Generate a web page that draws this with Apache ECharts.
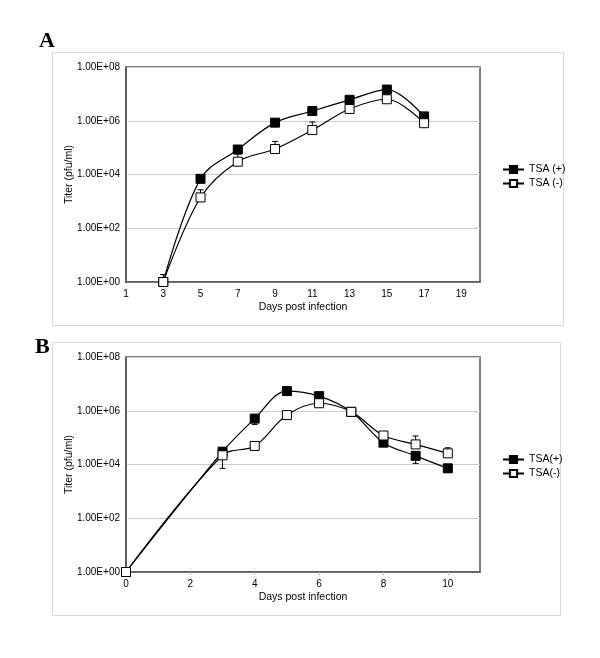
<!DOCTYPE html>
<html>
<head>
<meta charset="utf-8">
<script src="https://cdn.jsdelivr.net/npm/echarts@6/dist/echarts.min.js"></script>
<style>
html,body{margin:0;padding:0;background:#fff;}
#c{width:600px;height:658px;}
</style>
</head>
<body>
<div id="c"></div>
<script>
// ---- Panel A data ----
const daysA = [3, 5, 7, 9, 11, 13, 15, 17];
const tsaPlusA = [1, 6.9e3, 8.5e4, 8.5e5, 2.3e6, 6.0e6, 1.45e7, 1.45e6];
const tsaMinusA = [1, 1.4e3, 3.0e4, 8.9e4, 4.5e5, 2.75e6, 6.3e6, 8.1e5];
// error bar ends: [day, value, end]
const errPlusA = [[15, 1.45e7, 1.0e7]];
const errMinusA = [[3, 1, 1.9], [5, 1.4e3, 2.7e3], [7, 3.0e4, 5.8e4], [9, 8.9e4, 1.7e5], [11, 4.5e5, 9.0e5]];
const xTicksA = [1, 3, 5, 7, 9, 11, 13, 15, 17, 19];

// ---- Panel B data ----
const daysB = [0, 3, 4, 5, 6, 7, 8, 9, 10];
const tsaPlusB = [1, 3.0e4, 5.1e5, 5.4e6, 3.5e6, 9.1e5, 6.5e4, 2.1e4, 7.2e3];
const tsaMinusB = [1, 2.2e4, 4.9e4, 6.9e5, 1.9e6, 9.1e5, 1.2e5, 5.6e4, 2.6e4];
const errPlusB = [[4, 5.1e5, 3.1e5], [9, 2.1e4, 1.1e4], [10, 7.2e3, 5.4e3]];
const errMinusB = [[3, 2.2e4, 7.2e3], [9, 5.6e4, 1.15e5], [10, 2.6e4, 4.2e4]];
const xTicksB = [0, 2, 4, 6, 8, 10];

const yTickLabels = ['1.00E+00', '1.00E+02', '1.00E+04', '1.00E+06', '1.00E+08'];

const FONT = 'Liberation Sans, Arial, sans-serif';

function zip(xs, ys) { return xs.map((x, i) => [x, ys[i]]); }

function yLabel(v) {
  const e = Math.round(Math.log10(v));
  const s = '1.00E+' + (e < 10 ? '0' + e : e);
  return yTickLabels.indexOf(s) >= 0 ? s : '';
}

function errRender(params, api) {
  const x = api.value(0), y = api.value(1), e = api.value(2);
  const p1 = api.coord([x, y]);
  const p2 = api.coord([x, e]);
  const hw = 3;
  return {
    type: 'group',
    children: [
      { type: 'line', shape: { x1: p1[0], y1: p1[1], x2: p2[0], y2: p2[1] }, style: { stroke: '#000', lineWidth: 1 } },
      { type: 'line', shape: { x1: p2[0] - hw, y1: p2[1], x2: p2[0] + hw, y2: p2[1] }, style: { stroke: '#000', lineWidth: 1 } }
    ]
  };
}

function xAxisCfg(gi, min, max, ticks, showTick) {
  return {
    type: 'value', gridIndex: gi, min: min, max: max,
    name: 'Days post infection', nameLocation: 'middle', nameGap: 20, nameMoveOverlap: false,
    nameTextStyle: { fontFamily: FONT, fontSize: 10.5, color: '#000' },
    axisLine: { show: true, lineStyle: { color: '#555', width: 1.5 } },
    axisTick: { show: showTick, length: 3, inside: false, customValues: ticks, lineStyle: { color: '#bbb' } },
    axisLabel: { customValues: ticks, margin: 7, fontFamily: FONT, fontSize: 10, color: '#000' },
    splitLine: { show: false }
  };
}
function yAxisCfg(gi) {
  return {
    type: 'log', logBase: 10, gridIndex: gi, min: 1, max: 1e8, interval: 2,
    name: 'Titer (pfu/ml)', nameLocation: 'middle', nameGap: 51, nameRotate: 90, nameMoveOverlap: false,
    nameTextStyle: { fontFamily: FONT, fontSize: 10.5, color: '#000' },
    axisLine: { show: true, lineStyle: { color: '#555', width: 1.5 } },
    axisTick: { show: false },
    axisLabel: { margin: 6, fontFamily: FONT, fontSize: 10, color: '#000', formatter: yLabel },
    splitLine: { show: true, lineStyle: { color: '#ccc', width: 1 } }
  };
}
function lineSeries(name, xi, data, fill) {
  return {
    type: 'line', name: name, xAxisIndex: xi, yAxisIndex: xi, data: data,
    smooth: 0.35, symbol: 'rect', symbolSize: 9, z: 3,
    lineStyle: { color: '#000', width: 1.2 },
    itemStyle: { color: fill, borderColor: '#000', borderWidth: 1 },
    animation: false
  };
}
function errSeries(xi, data) {
  return {
    type: 'custom', xAxisIndex: xi, yAxisIndex: xi, data: data,
    encode: { x: 0, y: [1, 2] }, renderItem: errRender, z: 1, silent: true, animation: false
  };
}

const chart = echarts.init(document.getElementById('c'), null, { renderer: 'canvas' });
chart.setOption({
  animation: false,
  backgroundColor: '#fff',
  textStyle: { fontFamily: FONT },
  graphic: [
    { type: 'rect', shape: { x: 52.5, y: 52.5, width: 511, height: 273 }, style: { fill: 'none', stroke: '#d9d9d9', lineWidth: 1 }, z: -1 },
    { type: 'rect', shape: { x: 52.5, y: 342.5, width: 508, height: 273 }, style: { fill: 'none', stroke: '#d9d9d9', lineWidth: 1 }, z: -1 },
    { type: 'text', left: 39, top: 30, style: { text: 'A', font: 'bold 22px "Liberation Serif", "Times New Roman", serif', fill: '#000' } },
    { type: 'text', left: 35, top: 336, style: { text: 'B', font: 'bold 22px "Liberation Serif", "Times New Roman", serif', fill: '#000' } }
  ],
  grid: [
    { left: 126, top: 67, width: 354, height: 215, show: true, borderColor: '#555', borderWidth: 1.5, backgroundColor: '#fff' },
    { left: 126, top: 357, width: 354, height: 215, show: true, borderColor: '#555', borderWidth: 1.5, backgroundColor: '#fff' }
  ],
  legend: [
    { data: ['TSA (+)', 'TSA (-)'], orient: 'vertical', left: 497, top: 159, itemWidth: 21, itemHeight: 9, itemGap: 3,
      textStyle: { fontFamily: FONT, fontSize: 10.5, color: '#000' }, selectedMode: false },
    { data: ['TSA(+)', 'TSA(-)'], orient: 'vertical', left: 497, top: 449, itemWidth: 21, itemHeight: 9, itemGap: 3,
      textStyle: { fontFamily: FONT, fontSize: 10.5, color: '#000' }, selectedMode: false }
  ],
  xAxis: [xAxisCfg(0, 1, 20, xTicksA, false), xAxisCfg(1, 0, 11, xTicksB, true)],
  yAxis: [yAxisCfg(0), yAxisCfg(1)],
  series: [
    errSeries(0, errPlusA),
    errSeries(0, errMinusA),
    lineSeries('TSA (+)', 0, zip(daysA, tsaPlusA), '#000'),
    lineSeries('TSA (-)', 0, zip(daysA, tsaMinusA), '#fff'),
    errSeries(1, errPlusB),
    errSeries(1, errMinusB),
    lineSeries('TSA(+)', 1, zip(daysB, tsaPlusB), '#000'),
    lineSeries('TSA(-)', 1, zip(daysB, tsaMinusB), '#fff')
  ]
});
</script>
</body>
</html>
